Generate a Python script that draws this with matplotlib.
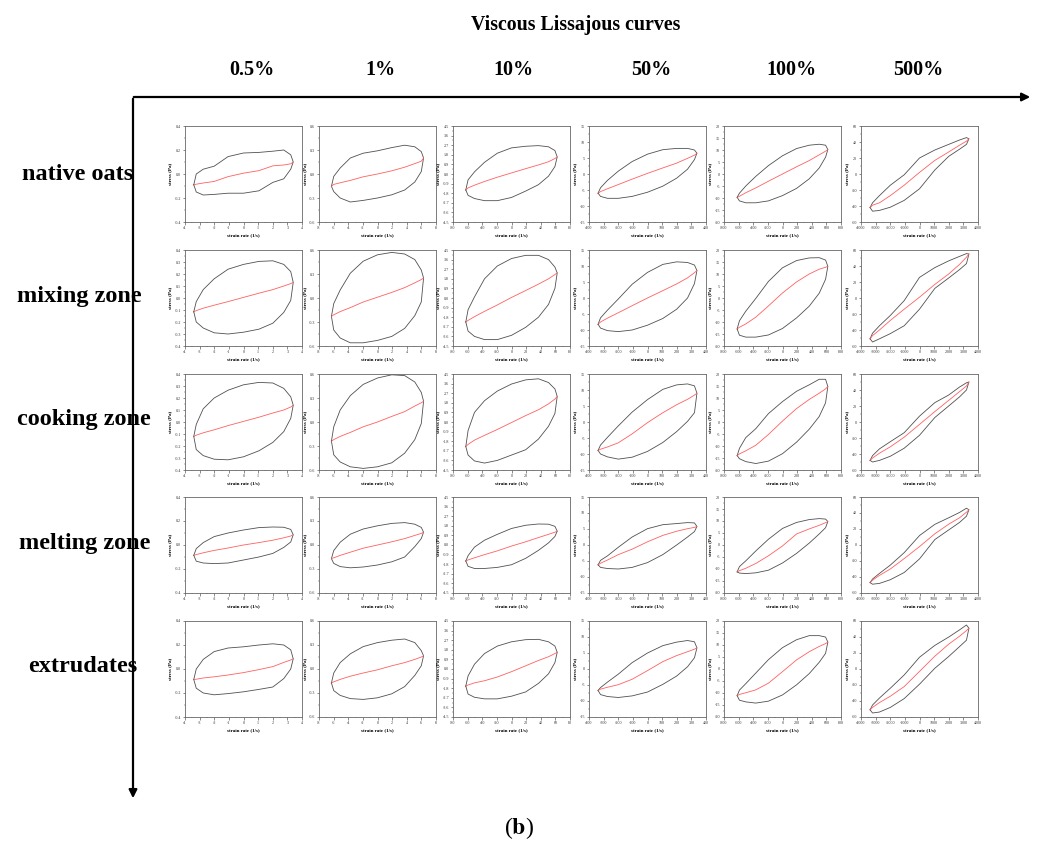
import matplotlib
matplotlib.use('Agg')
import numpy as np
import matplotlib.pyplot as plt
from matplotlib.patches import FancyArrowPatch
from matplotlib.ticker import MultipleLocator, AutoMinorLocator

plt.rcParams['font.family'] = ['Liberation Serif', 'DejaVu Serif']
plt.rcParams['axes.unicode_minus'] = False
plt.rcParams['mathtext.fontset'] = 'stix'

# Etiquetas
zones = ['native oats', 'mixing zone', 'cooking zone', 'melting zone', 'extrudates']
strains = ['0.5%', '1%', '10%', '50%', '100%', '500%']

# Amplitud de velocidad de deformación (1/s) por columna y fracciones de la rejilla
rate_amp = [3.4, 6.3, 62.5, 338, 620, 3380]
rate_frac = [-1, -0.95, -0.81, -0.59, -0.31, 0, 0.31, 0.59, 0.81, 0.95, 1]

# Ejes
x_lim = [4, 8, 80, 400, 800, 4000]
x_step = [1, 2, 20, 100, 200, 1000]
y_lim = [0.4, 0.6, 4.5, 15, 20, 60]
y_step = [0.2, 0.3, 0.9, 5, 5, 20]
first_col_ystep = [0.2, 0.1, 0.1, 0.2, 0.2]

# native oats
oats_upper = [
    [-0.09, 0.0, 0.04, 0.065, 0.145, 0.175, 0.18, 0.19, 0.2, 0.16, 0.1],
    [-0.155, -0.03, 0.075, 0.2, 0.26, 0.29, 0.33, 0.36, 0.34, 0.28, 0.2],
    [-1.5, -0.55, 0.2, 1.1, 1.95, 2.45, 2.6, 2.66, 2.55, 2.2, 1.6],
    [-6.0, -4.3, -2.0, 0.9, 3.9, 6.2, 7.6, 8.0, 8.0, 7.5, 6.5],
    [-9.7, -8.0, -5.0, -1.0, 3.5, 7.6, 10.6, 12.0, 12.4, 12.0, 10.2],
    [-42, -36, -27, -14, -1, 20, 30, 37, 42.5, 45.5, 44],
]
oats_lower = [
    [-0.09, -0.15, -0.175, -0.17, -0.16, -0.16, -0.14, -0.07, -0.04, 0.04, 0.1],
    [-0.155, -0.22, -0.3, -0.35, -0.33, -0.3, -0.26, -0.2, -0.1, 0.03, 0.2],
    [-1.5, -2.0, -2.3, -2.5, -2.5, -2.2, -1.6, -1.0, -0.2, 0.7, 1.6],
    [-6.0, -7.0, -7.6, -7.6, -7.0, -5.7, -3.8, -1.3, 1.5, 4.5, 6.5],
    [-9.7, -11.2, -12.0, -12.0, -11.2, -9.0, -6.0, -2.0, 2.5, 7.0, 10.2],
    [-42, -46.5, -45.5, -41.5, -33, -18.5, 5, 22, 31, 37, 44],
]
oats_visc = [
    [-0.09, -0.085, -0.075, -0.062, -0.022, 0.007, 0.028, 0.068, 0.075, 0.085, 0.1],
    [-0.155, -0.13, -0.11, -0.08, -0.035, 0.0, 0.04, 0.085, 0.13, 0.16, 0.2],
    [-1.5, -1.3, -1.05, -0.7, -0.3, 0.1, 0.5, 0.85, 1.15, 1.45, 1.6],
    [-6.0, -5.5, -4.6, -3.3, -1.6, 0.2, 1.9, 3.4, 4.9, 5.9, 6.5],
    [-9.7, -9.3, -7.8, -5.8, -3.0, 0.0, 3.0, 5.6, 8.0, 9.5, 10.2],
    [-42, -39, -36, -27, -14, 2, 17, 27.5, 36, 41, 44],
]

# mixing zone
mixing_upper = [
    [-0.115, -0.03, 0.07, 0.16, 0.24, 0.28, 0.305, 0.31, 0.28, 0.22, 0.13],
    [-0.23, -0.07, 0.1, 0.31, 0.46, 0.54, 0.57, 0.55, 0.48, 0.35, 0.25],
    [-2.25, -1.1, 0.1, 1.8, 3.0, 3.7, 4.0, 4.0, 3.6, 2.9, 2.35],
    [-8.2, -6.2, -3.8, -0.3, 4.3, 8.0, 10.5, 11.3, 11.1, 10.3, 8.6],
    [-12.9, -9.5, -5.5, -0.2, 6.9, 12.6, 15.6, 16.7, 16.8, 15.8, 13.2],
    [-51, -44, -34.7, -21.8, -3.3, 25.8, 38, 46.4, 52, 55.5, 55],
]
mixing_lower = [
    [-0.115, -0.2, -0.25, -0.29, -0.3, -0.285, -0.26, -0.21, -0.12, -0.02, 0.13],
    [-0.23, -0.4, -0.5, -0.56, -0.56, -0.53, -0.48, -0.38, -0.22, -0.05, 0.25],
    [-2.25, -3.1, -3.6, -3.9, -3.9, -3.5, -2.75, -1.8, -0.6, 0.9, 2.35],
    [-8.2, -9.4, -10.2, -10.5, -10.0, -8.5, -6.4, -3.5, 0.0, 4.5, 8.6],
    [-12.9, -15.5, -16.3, -16.3, -15.4, -12.7, -8.3, -3.4, 2.0, 7.8, 13.2],
    [-51, -55, -51, -44.5, -34.7, -14, 12, 25, 35.5, 43, 55],
]
mixing_visc = [
    [-0.115, -0.105, -0.085, -0.06, -0.03, 0.005, 0.04, 0.07, 0.1, 0.12, 0.13],
    [-0.23, -0.21, -0.17, -0.12, -0.05, 0.01, 0.07, 0.13, 0.19, 0.23, 0.25],
    [-2.25, -2.1, -1.75, -1.25, -0.65, 0.05, 0.7, 1.3, 1.8, 2.2, 2.35],
    [-8.2, -7.5, -6.3, -4.6, -2.4, 0.0, 2.3, 4.4, 6.3, 7.9, 8.6],
    [-12.9, -12.2, -10.8, -8.0, -3.3, 2.1, 6.7, 10.0, 12.0, 12.8, 13.2],
    [-51, -47, -40, -28, -14, 1, 17, 30, 42, 51, 55],
]

# cooking zone
cooking_upper = [
    [-0.12, -0.02, 0.11, 0.2, 0.265, 0.31, 0.33, 0.325, 0.28, 0.21, 0.14],
    [-0.24, -0.06, 0.15, 0.33, 0.47, 0.55, 0.59, 0.58, 0.5, 0.37, 0.26],
    [-2.3, -0.8, 0.9, 2.0, 2.9, 3.56, 3.95, 4.05, 3.7, 3.1, 2.4],
    [-8.9, -7.2, -4.8, -1.2, 3.1, 7.0, 10.2, 11.6, 11.9, 11.3, 9.0],
    [-14, -11, -6.5, -2.8, 3.5, 8.5, 12.8, 15.5, 17.8, 17.8, 14.8],
    [-48, -42, -33.6, -24.6, -13.4, 7.3, 24.2, 33.7, 43.7, 49, 50],
]
cooking_lower = [
    [-0.12, -0.23, -0.28, -0.31, -0.315, -0.29, -0.24, -0.17, -0.08, 0.03, 0.14],
    [-0.24, -0.41, -0.5, -0.56, -0.58, -0.56, -0.51, -0.39, -0.22, -0.02, 0.26],
    [-2.3, -3.1, -3.65, -3.85, -3.6, -3.1, -2.6, -1.6, -0.4, 0.8, 2.4],
    [-8.9, -10.0, -10.9, -11.6, -11.0, -9.2, -6.4, -3.0, 0.2, 2.9, 9.0],
    [-14, -15.3, -16.5, -17.3, -16.3, -13.2, -8.4, -3.0, 2.3, 8.0, 14.8],
    [-48, -50, -48, -42.8, -32.8, -16.6, 5.6, 20, 31.4, 40, 50],
]
cooking_visc = [
    [-0.12, -0.11, -0.09, -0.065, -0.03, 0.005, 0.04, 0.075, 0.1, 0.125, 0.14],
    [-0.24, -0.22, -0.18, -0.13, -0.06, 0.0, 0.07, 0.13, 0.2, 0.24, 0.26],
    [-2.3, -2.1, -1.7, -1.25, -0.7, -0.05, 0.6, 1.15, 1.7, 2.15, 2.4],
    [-8.9, -8.5, -7.8, -6.5, -3.7, -0.2, 2.9, 5.4, 7.1, 8.4, 9.0],
    [-14, -13.3, -12, -9.7, -5.2, 0.4, 5.6, 9.4, 12, 13.8, 14.8],
    [-48, -45, -39, -31, -19, -3, 13, 27, 38, 45, 50],
]

# melting zone
melting_upper = [
    [-0.086, -0.03, 0.02, 0.07, 0.1, 0.125, 0.145, 0.15, 0.148, 0.13, 0.086],
    [-0.17, -0.07, 0.035, 0.135, 0.2, 0.24, 0.27, 0.28, 0.26, 0.22, 0.16],
    [-1.5, -1.0, -0.2, 0.45, 1.0, 1.55, 1.85, 1.97, 1.95, 1.75, 1.3],
    [-6.2, -4.8, -3.4, -0.7, 2.5, 5.1, 6.35, 6.7, 7.0, 6.9, 5.8],
    [-11.2, -9.0, -6.6, -2.5, 2.4, 6.9, 9.4, 10.6, 11.0, 10.8, 9.8],
    [-47, -42.5, -35.5, -25.1, -9.6, 11.8, 25.8, 34, 40.7, 46, 44],
]
melting_lower = [
    [-0.086, -0.135, -0.15, -0.155, -0.15, -0.125, -0.1, -0.07, -0.02, 0.025, 0.086],
    [-0.17, -0.23, -0.27, -0.285, -0.275, -0.25, -0.21, -0.15, -0.02, 0.08, 0.16],
    [-1.5, -2.0, -2.2, -2.2, -2.1, -1.85, -1.25, -0.5, 0.2, 0.8, 1.3],
    [-6.2, -7.0, -7.35, -7.5, -7.0, -5.5, -3.0, 0.0, 2.5, 4.2, 5.8],
    [-11.2, -11.7, -11.9, -11.6, -10.5, -7.5, -3.5, 0.8, 4.6, 7.2, 9.8],
    [-47, -49, -48, -43.4, -34.4, -17.4, 6.8, 18.8, 28.2, 36, 44],
]
melting_visc = [
    [-0.086, -0.08, -0.065, -0.045, -0.025, 0.0, 0.02, 0.04, 0.06, 0.075, 0.086],
    [-0.17, -0.16, -0.13, -0.09, -0.04, 0.0, 0.04, 0.08, 0.12, 0.145, 0.16],
    [-1.5, -1.4, -1.2, -0.9, -0.55, -0.1, 0.3, 0.7, 1.0, 1.2, 1.3],
    [-6.2, -5.7, -4.7, -3.0, -1.3, 1.0, 3.0, 4.3, 5.1, 5.5, 5.8],
    [-11.2, -10.7, -9.7, -7.7, -4.5, -0.4, 4.6, 6.7, 8.2, 9.3, 9.8],
    [-47, -44, -38, -30, -17, -2, 14, 26, 34, 41, 44],
]

# extrudates
extr_upper = [
    [-0.088, 0.0, 0.08, 0.145, 0.175, 0.185, 0.2, 0.21, 0.2, 0.16, 0.085],
    [-0.175, -0.05, 0.08, 0.19, 0.28, 0.33, 0.36, 0.375, 0.33, 0.23, 0.165],
    [-1.6, -0.65, 0.45, 1.45, 2.15, 2.55, 2.75, 2.78, 2.55, 2.15, 1.56],
    [-6.7, -5.8, -4.1, -1.6, 2.0, 5.0, 7.3, 8.4, 8.9, 8.5, 6.6],
    [-11.1, -8.8, -6.1, -1.7, 3.9, 8.9, 12.2, 13.9, 13.9, 13.3, 11.2],
    [-51, -45, -36.3, -24, -7.5, 14.7, 29.5, 39.9, 48.9, 55, 51],
]
extr_lower = [
    [-0.088, -0.16, -0.2, -0.215, -0.205, -0.19, -0.17, -0.15, -0.08, 0.0, 0.085],
    [-0.175, -0.27, -0.33, -0.37, -0.38, -0.36, -0.31, -0.22, -0.08, 0.04, 0.165],
    [-1.6, -2.35, -2.65, -2.8, -2.8, -2.55, -2.15, -1.35, -0.45, 0.6, 1.56],
    [-6.7, -8.0, -8.6, -8.9, -8.4, -7.2, -4.8, -2.2, 0.7, 3.5, 6.6],
    [-11.1, -13.0, -13.7, -14.2, -13.4, -10.8, -6.6, -1.9, 2.8, 6.5, 11.2],
    [-51, -55, -53.8, -48, -37, -19, 0.9, 15.6, 28, 36, 51],
]
extr_visc = [
    [-0.088, -0.085, -0.075, -0.065, -0.05, -0.03, -0.005, 0.02, 0.055, 0.075, 0.085],
    [-0.175, -0.16, -0.13, -0.09, -0.05, -0.01, 0.04, 0.08, 0.12, 0.15, 0.165],
    [-1.6, -1.5, -1.3, -1.1, -0.75, -0.25, 0.3, 0.8, 1.15, 1.45, 1.56],
    [-6.7, -6.3, -5.7, -4.9, -3.2, -0.5, 2.3, 4.2, 5.4, 6.2, 6.6],
    [-11.1, -10.6, -9.9, -8.7, -5.9, -1.1, 3.8, 7.2, 9.4, 10.6, 11.2],
    [-51, -48, -42, -34, -22, -3, 16, 31, 41, 48, 51],
]

uppers = [oats_upper, mixing_upper, cooking_upper, melting_upper, extr_upper]
lowers = [oats_lower, mixing_lower, cooking_lower, melting_lower, extr_lower]
viscs = [oats_visc, mixing_visc, cooking_visc, melting_visc, extr_visc]

# Figura
W, H = 1038, 846
fig = plt.figure(figsize=(W / 100, H / 100), dpi=100)

col_left = [185, 319, 453, 589, 724, 861]
row_top = [126, 250, 374, 497, 621]
ax_w, ax_h = 117, 96
frac = np.array(rate_frac)

for i in range(5):
    for j in range(6):
        ax = fig.add_axes([col_left[j] / W, 1 - (row_top[i] + ax_h) / H, ax_w / W, ax_h / H])
        x = rate_amp[j] * frac
        loop_x = np.concatenate([x, x[::-1]])
        loop_y = np.concatenate([uppers[i][j], lowers[i][j][::-1]])
        ax.plot(loop_x, loop_y, color='#505050', lw=0.6)
        ax.plot(x, viscs[i][j], color='#ff6060', lw=0.6)

        ax.set_xlim(-x_lim[j], x_lim[j])
        ax.set_ylim(-y_lim[j], y_lim[j])
        ax.xaxis.set_major_locator(MultipleLocator(x_step[j]))
        ys = first_col_ystep[i] if j == 0 else y_step[j]
        ax.yaxis.set_major_locator(MultipleLocator(ys))
        ax.xaxis.set_minor_locator(AutoMinorLocator(2))
        ax.yaxis.set_minor_locator(AutoMinorLocator(2))
        ax.tick_params(which='major', length=1.8, width=0.4, labelsize=3, pad=1,
                       colors='#333333')
        ax.tick_params(which='minor', length=1, width=0.3, colors='#333333')
        for sp in ax.spines.values():
            sp.set_linewidth(0.6)
            sp.set_color('#666666')
        ax.set_xlabel('strain rate (1/s)', fontsize=3.6, fontweight='bold', labelpad=2)
        ax.set_ylabel('stress (Pa)', fontsize=3.6, fontweight='bold', labelpad=1.5)

# Títulos y etiquetas
fig.text(576 / W, 1 - 25 / H, 'Viscous Lissajous curves', fontsize=14.3,
         fontweight='bold', ha='center', va='center')
strain_x = [252, 380, 513, 651, 791, 918]
for s, sx in zip(strains, strain_x):
    fig.text(sx / W, 1 - 70 / H, s, fontsize=14.5, fontweight='bold',
             ha='center', va='center')
zone_x = [78, 79, 84, 85, 83]
zone_y = [175, 296, 419, 543, 667]
for z, zx, zy in zip(zones, zone_x, zone_y):
    fig.text(zx / W, 1 - zy / H, z, fontsize=17.5, fontweight='bold',
             ha='center', va='center')
fig.text(519 / W, 1 - 828 / H, r'($\mathbf{b}$)', fontsize=17,
         ha='center', va='center')

# Flechas
fig.add_artist(FancyArrowPatch((131 / W, 1 - 97 / H), (1033 / W, 1 - 97 / H),
                               transform=fig.transFigure, arrowstyle='-|>',
                               mutation_scale=12, lw=1.6, color='black'))
fig.add_artist(FancyArrowPatch((133 / W, 1 - 96 / H), (133 / W, 1 - 801 / H),
                               transform=fig.transFigure, arrowstyle='-|>',
                               mutation_scale=12, lw=1.6, color='black'))

fig.savefig('out.png', dpi=100)
